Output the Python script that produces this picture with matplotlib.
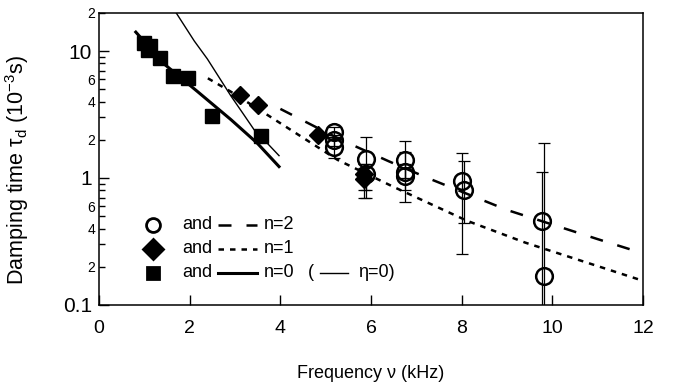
import matplotlib
matplotlib.use('Agg')
import matplotlib.pyplot as plt
from matplotlib.ticker import FixedLocator, FixedFormatter, NullFormatter
from matplotlib.lines import Line2D

plt.rcParams['font.family'] = ['Liberation Sans', 'DejaVu Sans']
plt.rcParams['mathtext.fontset'] = 'custom'
plt.rcParams['mathtext.rm'] = 'Liberation Sans'
plt.rcParams['mathtext.it'] = 'Liberation Sans:italic'

# measured damping times (1e-3 s) vs frequency (kHz)
sq_f = [1.0, 1.12, 1.08, 1.35, 1.62, 1.97, 2.5, 3.57]
sq_t = [11.5, 11.0, 10.2, 8.75, 6.4, 6.1, 3.1, 2.13]

dia_f = [3.11, 3.51, 4.82, 5.85, 5.85]
dia_t = [4.5, 3.78, 2.17, 1.08, 0.98]
dia_lo = [4.5, 3.78, 2.17, 0.80, 0.69]
dia_hi = [4.5, 3.78, 2.17, 1.30, 1.20]

circ_f = [5.18, 5.18, 5.18, 5.88, 5.88, 6.74, 6.74, 6.74, 8.0, 8.05, 9.77, 9.82]
circ_t = [2.3, 2.0, 1.77, 1.40, 1.08, 1.39, 1.12, 1.04, 0.94, 0.81, 0.46, 0.17]
circ_lo = [2.1, 1.8, 1.45, 0.80, 0.70, 1.0, 0.8, 0.65, 0.25, 0.44, 0.05, 0.05]
circ_hi = [2.5, 2.2, 2.1, 2.09, 1.3, 1.94, 1.6, 1.3, 1.58, 1.37, 1.12, 1.88]

# model curves
n2_f = [4.0, 4.8, 5.4, 6.4, 7.25, 8.0, 9.0, 10.0, 11.0, 12.0]
n2_t = [3.5, 2.5, 1.95, 1.35, 1.0, 0.78, 0.56, 0.43, 0.33, 0.255]
n1_f = [2.4, 2.9, 3.8, 5.26, 6.5, 8.12, 9.4, 12.0]
n1_t = [6.1, 4.8, 3.0, 1.39, 0.85, 0.46, 0.31, 0.155]
n0_f = [0.81, 1.44, 2.17, 2.91, 3.49, 3.97]
n0_t = [14.1, 7.88, 4.8, 2.88, 1.88, 1.23]
eta0_f = [1.70, 2.1, 2.39, 2.91, 3.16, 3.42, 3.71, 3.97]
eta0_t = [20.0, 12.0, 8.65, 4.42, 3.28, 2.4, 1.88, 1.5]

fig = plt.figure(figsize=(6.74, 3.88), dpi=100)
ax = fig.add_axes([0.147, 0.214, 0.807, 0.753])

dash2 = (0, (5.2, 6.0))
dot1 = (0, (2.2, 2.4))

ax.plot(n2_f, n2_t, color='black', lw=1.8, linestyle=dash2)
ax.plot(n1_f, n1_t, color='black', lw=1.8, linestyle=dot1)
ax.plot(n0_f, n0_t, color='black', lw=2.2)
ax.plot(eta0_f, eta0_t, color='black', lw=1.0)

yerr_c = [[t - l for t, l in zip(circ_t, circ_lo)], [h - t for t, h in zip(circ_t, circ_hi)]]
ax.errorbar(circ_f, circ_t, yerr=yerr_c, fmt='none', ecolor='black', elinewidth=0.9, capsize=4, capthick=0.9)
yerr_d = [[t - l for t, l in zip(dia_t, dia_lo)], [h - t for t, h in zip(dia_t, dia_hi)]]
ax.errorbar(dia_f, dia_t, yerr=yerr_d, fmt='none', ecolor='black', elinewidth=0.9, capsize=4, capthick=0.9)

ax.plot(sq_f, sq_t, 's', color='black', ms=10.5, ls='none')
ax.plot(dia_f, dia_t, 'D', color='black', ms=9, ls='none')
ax.plot(circ_f, circ_t, 'o', mfc='none', mec='black', mew=1.8, ms=12, ls='none')

ax.set_yscale('log')
ax.set_xlim(0, 12)
ax.set_ylim(0.1, 20)
ax.set_xticks([0, 2, 4, 6, 8, 10, 12])
ax.yaxis.set_major_locator(FixedLocator([0.1, 1, 10]))
ax.yaxis.set_major_formatter(FixedFormatter(['0.1', '1', '10']))
minors = [0.2, 0.3, 0.4, 0.5, 0.6, 0.7, 0.8, 0.9, 2, 3, 4, 5, 6, 7, 8, 9, 20]
minor_lbl = ['2', '', '4', '', '6', '', '', '', '2', '', '4', '', '6', '', '', '', '2']
ax.yaxis.set_minor_locator(FixedLocator(minors))
ax.yaxis.set_minor_formatter(FixedFormatter(minor_lbl))
ax.xaxis.set_minor_formatter(NullFormatter())

ax.tick_params(axis='x', which='major', direction='in', length=7, width=1, labelsize=14, pad=11)
ax.tick_params(axis='y', which='major', direction='in', length=7, width=1, labelsize=15, pad=5)
ax.tick_params(axis='y', which='minor', direction='in', length=4, width=1, labelsize=10, pad=3)
ax.tick_params(top=False, right=False)
for s in ax.spines.values():
    s.set_linewidth(1.1)

ax.set_xlabel('Frequency ν (kHz)', fontsize=13, labelpad=20)
ax.set_ylabel(r'Damping time τ$_{\rm d}$ (10$^{-3}$s)', fontsize=15.5)
ax.yaxis.set_label_coords(-0.125, 0.46)

# hand-laid legend
rows = [('o', dash2, 1.8, 'n=2'), ('D', dot1, 1.8, 'n=1'), ('s', '-', 2.2, 'n=0')]
ys = [0.274, 0.192, 0.110]
for (mk, style, lw, lab), yy in zip(rows, ys):
    m = Line2D([0.099], [yy], marker=mk, transform=ax.transAxes, color='black',
               ms=10 if mk != 's' else 9, mfc='none' if mk == 'o' else 'black', mew=2, ls='none')
    ax.add_line(m)
    ax.text(0.153, yy, 'and', transform=ax.transAxes, fontsize=13, va='center')
    ax.add_line(Line2D([0.219, 0.291], [yy, yy], transform=ax.transAxes, color='black', lw=lw, linestyle=style))
    ax.text(0.302, yy, lab, transform=ax.transAxes, fontsize=13, va='center')
ax.text(0.384, ys[2], '(', transform=ax.transAxes, fontsize=13, va='center')
ax.add_line(Line2D([0.406, 0.458], [ys[2], ys[2]], transform=ax.transAxes, color='black', lw=1.0))
ax.text(0.476, ys[2], 'η=0)', transform=ax.transAxes, fontsize=13, va='center')

fig.savefig('out.png', dpi=100)
